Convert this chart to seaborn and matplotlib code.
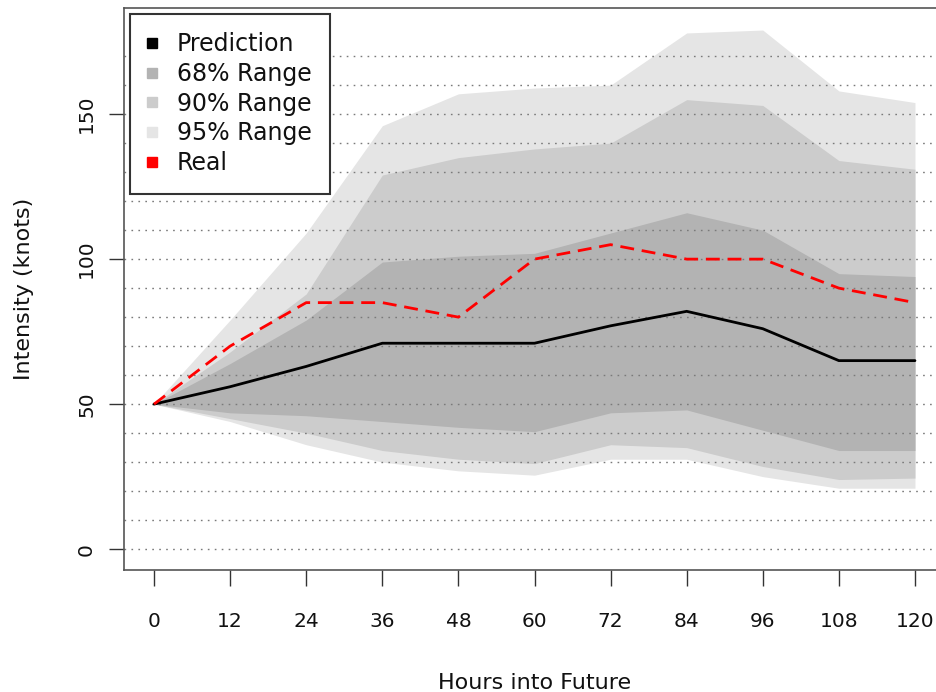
import matplotlib
matplotlib.use("Agg")
import matplotlib.pyplot as plt
import seaborn as sns
import pandas as pd
from matplotlib.lines import Line2D

# ---------------- data ----------------
hours = [0, 12, 24, 36, 48, 60, 72, 84, 96, 108, 120]
prediction = [50, 56, 63, 71, 71, 71, 77, 82, 76, 65, 65]
real = [50, 70, 85, 85, 80, 100, 105, 100, 100, 90, 85]
upper_68 = [50, 64, 79, 99, 101, 102, 109, 116, 110, 95, 94]
lower_68 = [50, 47, 46, 44, 42, 40.5, 47, 48, 41, 34, 34]
upper_90 = [50, 68, 88, 129, 135, 138, 140, 155, 153, 134, 131]
lower_90 = [50, 45, 40, 34, 31, 29.5, 36, 35, 28.5, 24, 24.5]
upper_95 = [50, 79, 109, 146, 157, 159, 160, 178, 179, 158, 154]
lower_95 = [50, 44, 36, 30, 27, 25.5, 31, 31, 25, 21, 21]

x_tick_labels = ["0", "12", "24", "36", "48", "60", "72", "84", "96", "108", "120"]
y_ticks = [0, 50, 100, 150]
grid_levels = [0, 10, 20, 30, 40, 50, 60, 70, 80, 90, 100, 110, 120, 130, 140, 150, 160, 170]

legend_labels = ["Prediction", "68% Range", "90% Range", "95% Range", "Real"]
legend_colors = ["#000000", "#B3B3B3", "#CCCCCC", "#E5E5E5", "#FF0000"]

df = pd.DataFrame({"hours": hours, "prediction": prediction, "real": real})

# ---------------- style ----------------
sns.set_style("white")
plt.rcParams['font.family'] = ['DejaVu Sans']

fig = plt.figure(figsize=(9.36, 6.92), dpi=100)
ax = fig.add_axes([123.6 / 936, (692 - 570) / 692, 821.8 / 936, 562 / 692])

# bands
ax.fill_between(hours, lower_95, upper_95, color="#E5E5E5", lw=0, zorder=1)
ax.fill_between(hours, lower_90, upper_90, color="#CCCCCC", lw=0, zorder=1.1)
ax.fill_between(hours, lower_68, upper_68, color="#B3B3B3", lw=0, zorder=1.2)

# dotted horizontal guide lines
for g in grid_levels:
    ax.axhline(g, color="#7a7a7a", lw=1.0, dashes=(1.2, 3.8), zorder=2)

# lines
sns.lineplot(data=df, x="hours", y="prediction", color="black", lw=2.0,
             ax=ax, zorder=3)
sns.lineplot(data=df, x="hours", y="real", color="#FF0000", lw=2.0,
             ax=ax, zorder=3.1)
ax.lines[-1].set_dashes((5, 2.8))

ax.set_xlim(-4.8, 124.8)
ax.set_ylim(-7.2, 186.6)

ax.set_xticks(hours)
ax.set_xticklabels(x_tick_labels)
ax.set_yticks(y_ticks)
ax.set_yticklabels([str(v) for v in y_ticks])

ax.tick_params(axis="x", length=11.5, width=1.0, pad=18.5, labelsize=14.5,
               color="#333333", labelcolor="#111111", direction="out", bottom=True)
ax.tick_params(axis="y", length=10.8, width=1.0, pad=9, labelsize=14.5,
               color="#333333", labelcolor="#111111", direction="out", left=True,
               labelrotation=90)
for lbl in ax.get_yticklabels():
    lbl.set_va("center")

for s in ax.spines.values():
    s.set_color("#555555")
    s.set_linewidth(1.2)

ax.set_xlabel("Hours into Future", fontsize=16, color="#111111")
ax.set_ylabel("Intensity (knots)", fontsize=16, color="#111111")
ax.xaxis.set_label_coords(0.5, -0.183)
ax.yaxis.set_label_coords(-0.109, 0.5)

handles = [Line2D([], [], marker="s", ls="none", color=c, markersize=7.5)
           for c in legend_colors]
leg = ax.legend(handles, legend_labels, loc="upper left",
                bbox_to_anchor=(130 / 936, 1 - 14 / 692),
                bbox_transform=fig.transFigure, borderaxespad=0,
                fontsize=17, frameon=True, fancybox=False, framealpha=1,
                borderpad=0.78, handlelength=0.3, handletextpad=0.9,
                labelspacing=0.24)
leg.get_frame().set_edgecolor("#333333")
leg.get_frame().set_linewidth(1.5)
for t in leg.get_texts():
    t.set_color("#111111")

fig.savefig("out.png", dpi=100)
